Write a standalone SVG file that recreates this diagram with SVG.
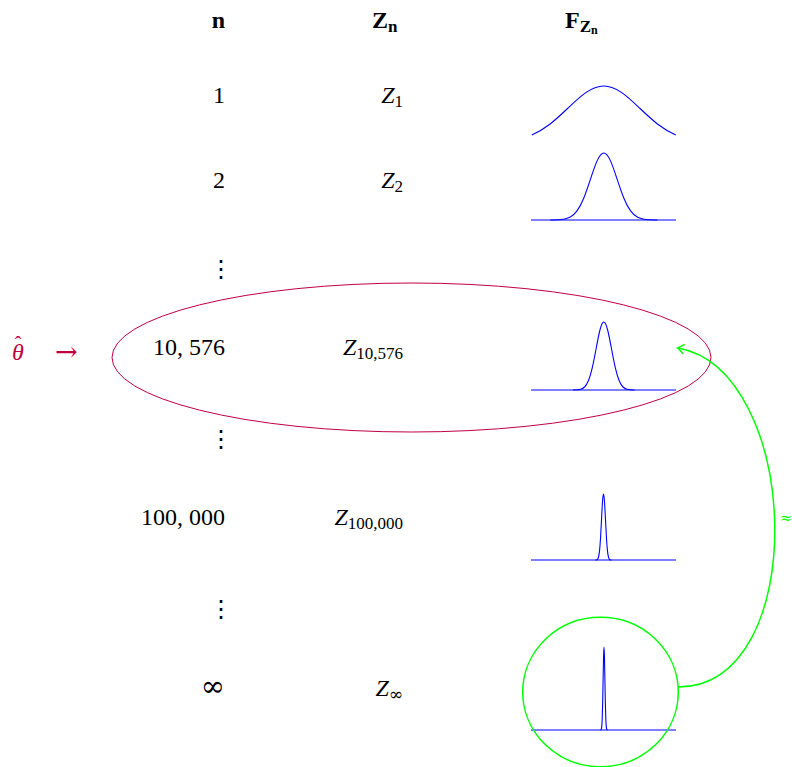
<svg xmlns="http://www.w3.org/2000/svg" width="792" height="767" viewBox="0 0 792 767">
<style>
text{font-family:"Liberation Serif","DejaVu Serif",serif;font-size:24px;fill:#000}
.hd{font-weight:bold}
.it{font-style:italic}
.sub{font-size:17px}
.ssub{font-size:12px}
.num{text-anchor:end}
.g{fill:none;stroke:#0000FF;stroke-width:1.1;vector-effect:non-scaling-stroke}
.bl{fill:none;stroke:#0000FF;stroke-width:1.1}
.pur{fill:#BF0040}
.dots{text-anchor:middle;font-family:"DejaVu Serif",serif}
.inf{font-family:"DejaVu Serif",serif;font-size:29px}
</style>
<defs>
<marker id="to" viewBox="-7 -6 9 12" refX="0" refY="0" markerWidth="9" markerHeight="12" markerUnits="userSpaceOnUse" orient="auto">
<path d="M-5.5,-4.5 Q-1.5,-1 0.5,0 Q-1.5,1 -5.5,4.5" fill="none" stroke="#00FF00" stroke-width="1.4" stroke-linecap="round"/>
</marker>
</defs>

<g id="headers">
<text class="hd num" x="225" y="28">n</text>
<text class="hd" x="372" y="28">Z<tspan class="sub" dy="4">n</tspan></text>
<text class="hd" x="565" y="28">F<tspan class="sub" dy="4">Z</tspan><tspan class="ssub" dy="2">n</tspan></text>
</g>

<g id="row1">
<text class="num" x="225" y="103">1</text>
<text class="it num" x="403" y="103">Z<tspan class="sub" font-style="normal" dy="4">1</tspan></text>
<g transform="translate(603.8,142.6) scale(36,56.6)">
<path class="g" d="M-2,-0.1353 C-1.8333,-0.1804 -1.6667,-0.2435 -1.5,-0.3247 C-1.3333,-0.4059 -1.1667,-0.5054 -1,-0.6065 C-0.8333,-0.7076 -0.6667,-0.809 -0.5,-0.8825 C-0.3333,-0.956 -0.1667,-1 0,-1 C0.1667,-1 0.3333,-0.956 0.5,-0.8825 C0.6667,-0.809 0.8333,-0.7076 1,-0.6065 C1.1667,-0.5054 1.3333,-0.4059 1.5,-0.3247 C1.6667,-0.2435 1.8333,-0.1804 2,-0.1353"/>
</g>
</g>

<g id="row2">
<text class="num" x="225" y="188">2</text>
<text class="it num" x="403" y="188">Z<tspan class="sub" font-style="normal" dy="4">2</tspan></text>
<line class="bl" x1="531" y1="220" x2="676" y2="220"/>
<g transform="translate(603.8,220) scale(13.4,67)">
<path class="g" d="M-4,0 C-3.6667,0 -3.3333,0 -3,-0.0111 C-2.8333,-0.0167 -2.6667,-0.0256 -2.5,-0.0439 C-2.3333,-0.0622 -2.1667,-0.0902 -2,-0.1353 C-1.8333,-0.1804 -1.6667,-0.2435 -1.5,-0.3247 C-1.3333,-0.4059 -1.1667,-0.5054 -1,-0.6065 C-0.8333,-0.7076 -0.6667,-0.809 -0.5,-0.8825 C-0.3333,-0.956 -0.1667,-1 0,-1 C0.1667,-1 0.3333,-0.956 0.5,-0.8825 C0.6667,-0.809 0.8333,-0.7076 1,-0.6065 C1.1667,-0.5054 1.3333,-0.4059 1.5,-0.3247 C1.6667,-0.2435 1.8333,-0.1804 2,-0.1353 C2.1667,-0.0902 2.3333,-0.0622 2.5,-0.0439 C2.6667,-0.0256 2.8333,-0.0167 3,-0.0111 C3.3333,0 3.6667,0 4,0"/>
</g>
</g>

<g id="dots1"><text class="dots" x="221" y="277">⋮</text></g>

<g id="row3">
<text class="num" x="225" y="355">10, 576</text>
<text class="it num" x="403" y="355">Z<tspan class="sub" font-style="normal" dy="4">10,576</tspan></text>
<line class="bl" x1="531" y1="390" x2="676" y2="390"/>
<g transform="translate(603.8,390) scale(7.7,68)">
<path class="g" d="M-4,0 C-3.6667,0 -3.3333,0 -3,-0.0111 C-2.8333,-0.0167 -2.6667,-0.0256 -2.5,-0.0439 C-2.3333,-0.0622 -2.1667,-0.0902 -2,-0.1353 C-1.8333,-0.1804 -1.6667,-0.2435 -1.5,-0.3247 C-1.3333,-0.4059 -1.1667,-0.5054 -1,-0.6065 C-0.8333,-0.7076 -0.6667,-0.809 -0.5,-0.8825 C-0.3333,-0.956 -0.1667,-1 0,-1 C0.1667,-1 0.3333,-0.956 0.5,-0.8825 C0.6667,-0.809 0.8333,-0.7076 1,-0.6065 C1.1667,-0.5054 1.3333,-0.4059 1.5,-0.3247 C1.6667,-0.2435 1.8333,-0.1804 2,-0.1353 C2.1667,-0.0902 2.3333,-0.0622 2.5,-0.0439 C2.6667,-0.0256 2.8333,-0.0167 3,-0.0111 C3.3333,0 3.6667,0 4,0"/>
</g>
</g>

<g id="dots2"><text class="dots" x="221" y="447">⋮</text></g>

<g id="row4">
<text class="num" x="225" y="525">100, 000</text>
<text class="it num" x="403" y="525">Z<tspan class="sub" font-style="normal" dy="4">100,000</tspan></text>
<line class="bl" x1="531" y1="560" x2="676" y2="560"/>
<g transform="translate(603.5,560) scale(2,66)">
<path class="g" d="M-4,0 C-3.6667,0 -3.3333,0 -3,-0.0111 C-2.8333,-0.0167 -2.6667,-0.0256 -2.5,-0.0439 C-2.3333,-0.0622 -2.1667,-0.0902 -2,-0.1353 C-1.8333,-0.1804 -1.6667,-0.2435 -1.5,-0.3247 C-1.3333,-0.4059 -1.1667,-0.5054 -1,-0.6065 C-0.8333,-0.7076 -0.6667,-0.809 -0.5,-0.8825 C-0.3333,-0.956 -0.1667,-1 0,-1 C0.1667,-1 0.3333,-0.956 0.5,-0.8825 C0.6667,-0.809 0.8333,-0.7076 1,-0.6065 C1.1667,-0.5054 1.3333,-0.4059 1.5,-0.3247 C1.6667,-0.2435 1.8333,-0.1804 2,-0.1353 C2.1667,-0.0902 2.3333,-0.0622 2.5,-0.0439 C2.6667,-0.0256 2.8333,-0.0167 3,-0.0111 C3.3333,0 3.6667,0 4,0"/>
</g>
</g>

<g id="dots3"><text class="dots" x="221" y="617">⋮</text></g>

<g id="row5">
<text class="num inf" x="225" y="696">∞</text>
<text class="it num" x="403" y="696">Z<tspan class="sub" font-style="normal" font-family="DejaVu Serif" font-size="18" dy="4">∞</tspan></text>
<line class="bl" x1="531" y1="730" x2="676" y2="730"/>
<g transform="translate(604,730) scale(0.9,83)">
<path class="g" d="M-4,0 C-3.6667,0 -3.3333,0 -3,-0.0111 C-2.8333,-0.0167 -2.6667,-0.0256 -2.5,-0.0439 C-2.3333,-0.0622 -2.1667,-0.0902 -2,-0.1353 C-1.8333,-0.1804 -1.6667,-0.2435 -1.5,-0.3247 C-1.3333,-0.4059 -1.1667,-0.5054 -1,-0.6065 C-0.8333,-0.7076 -0.6667,-0.809 -0.5,-0.8825 C-0.3333,-0.956 -0.1667,-1 0,-1 C0.1667,-1 0.3333,-0.956 0.5,-0.8825 C0.6667,-0.809 0.8333,-0.7076 1,-0.6065 C1.1667,-0.5054 1.3333,-0.4059 1.5,-0.3247 C1.6667,-0.2435 1.8333,-0.1804 2,-0.1353 C2.1667,-0.0902 2.3333,-0.0622 2.5,-0.0439 C2.6667,-0.0256 2.8333,-0.0167 3,-0.0111 C3.3333,0 3.6667,0 4,0"/>
</g>
</g>

<g id="theta">
<text class="it pur" x="12" y="360">θ<tspan dx="-9" dy="-9" font-style="normal" font-size="20">ˆ</tspan></text>
<text class="pur" x="55" y="361" style="font-family:'DejaVu Serif',serif;font-size:27px">→</text>
</g>

<g id="ellipse">
<ellipse cx="411.5" cy="357.5" rx="299.5" ry="74.5" fill="none" stroke="#BF0040" stroke-width="1"/>
</g>

<g id="circle">
<ellipse cx="600.5" cy="692" rx="77.8" ry="74.7" fill="none" stroke="#00FF00" stroke-width="1.5"/>
</g>

<g id="connectors">
<path d="M678,687 C812,687 802,370 678,348" fill="none" stroke="#00FF00" stroke-width="1.5" marker-end="url(#to)"/>
<text x="786" y="523" text-anchor="middle" style="font-family:'DejaVu Serif',serif;font-size:15px;fill:#00FF00">≈</text>
</g>
</svg>
